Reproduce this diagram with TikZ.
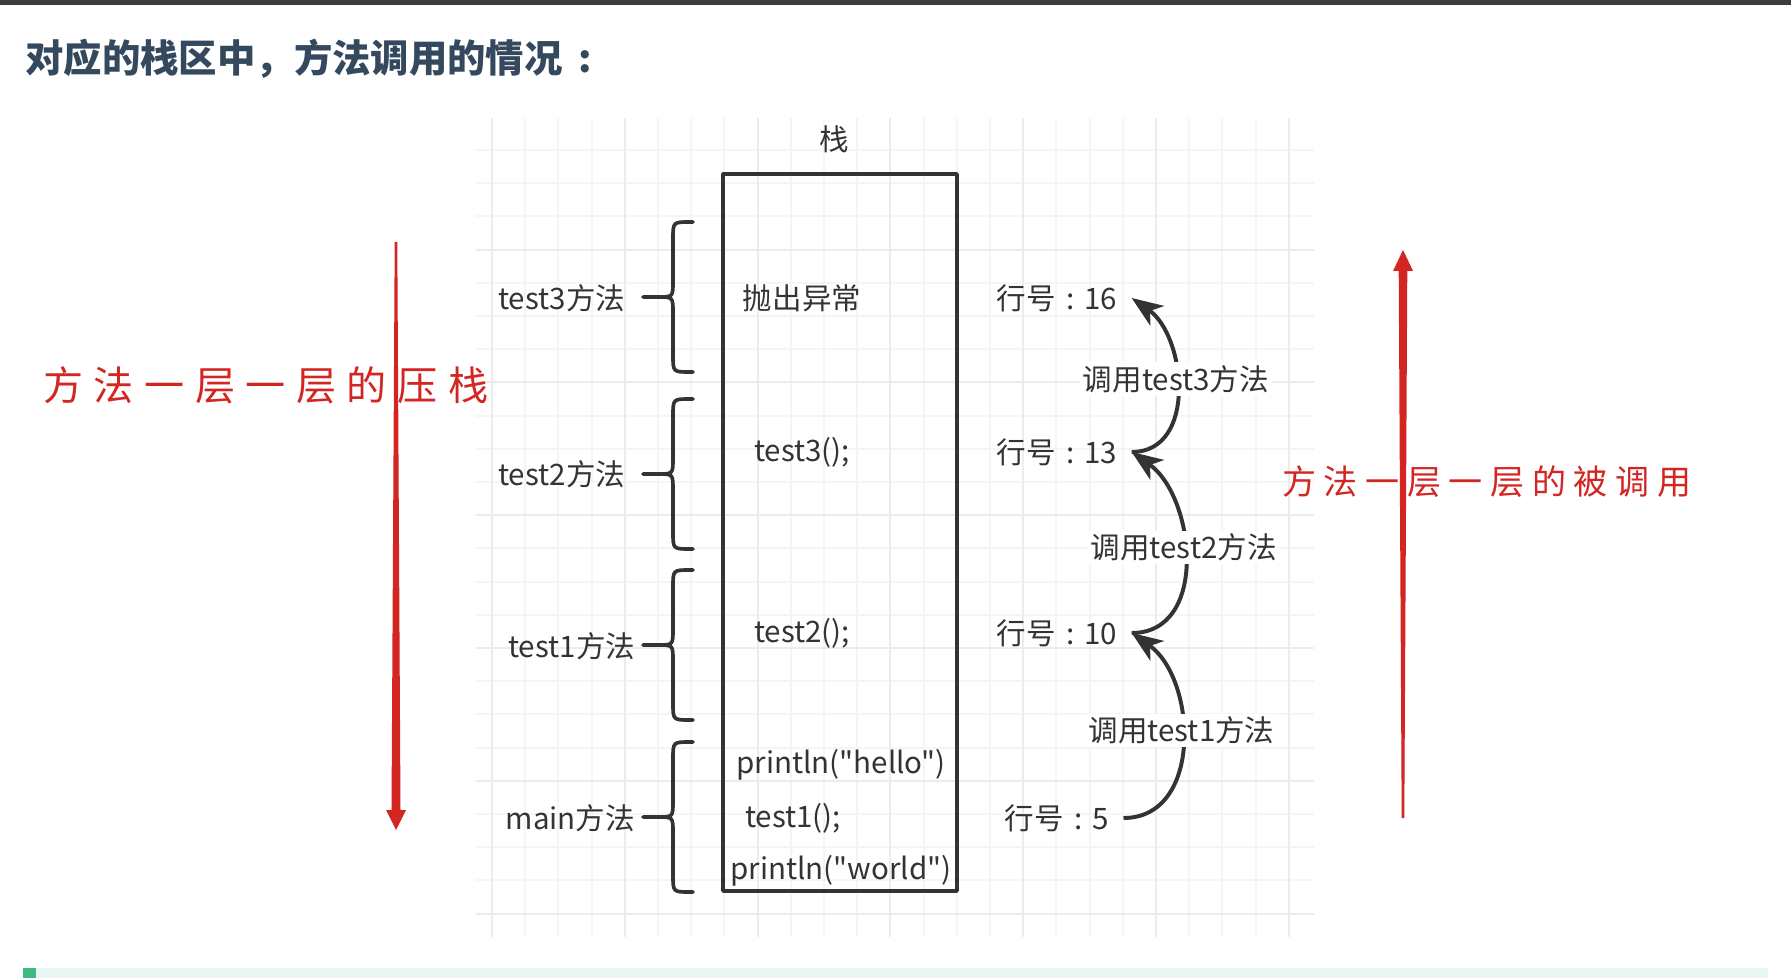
\documentclass[tikz,border=0pt]{standalone}
\usepackage{fontspec}
\setmainfont{Noto Sans CJK SC}
\newfontfamily\plainfont{Noto Sans CJK SC}
\newfontfamily\pushfont[LetterSpace=26.3]{Noto Sans CJK SC}
\newfontfamily\callfont[LetterSpace=22.4]{Noto Sans CJK SC}
\usetikzlibrary{arrows.meta,calc}

\definecolor{ink}{HTML}{333333}
\definecolor{titleblue}{HTML}{34495E}
\definecolor{penred}{RGB}{211,38,34}
\definecolor{vuegreen}{HTML}{42B983}
\definecolor{tipbg}{HTML}{E9F6F1}

\newcommand{\hao}[1]{行号\hspace{0.35em}:\hspace{0.35em}#1}

\tikzset{
  lbl/.style={font=\plainfont\fontsize{21}{24}\selectfont, text=ink},
  boxline/.style={draw=ink, line width=2.6pt, line join=round},
  callarrow/.style={draw=ink, line width=2.8pt, -{Stealth[length=22pt,width=17pt,inset=6pt]}},
  calllbl/.style={lbl, fill=white, inner sep=2pt},
  gridline/.style={draw=gray!8, line width=1.3pt},
  gridmajor/.style={draw=gray!15, line width=1.3pt},
  methodbrace/.pic={
    \draw[boxline, line cap=round] (0,-75) -- (-3,-75) .. controls (-20,-75) .. (-20,-58)
      -- (-20,-16) .. controls (-20,0) .. (-35,0) -- (-50,0)
      (-35,0) .. controls (-20,0) .. (-20,16) -- (-20,58) .. controls (-20,75) .. (-3,75) -- (0,75);
  }
}

\begin{document}
\begin{tikzpicture}[x=0.025cm, y=-0.025cm]
  \useasboundingbox (0,0) rectangle (1791,978);

  % Page bars
  \fill[ink!95] (0,0) rectangle (1791,5);
  \fill[tipbg] (23,968) rectangle (1768,978);
  \fill[vuegreen] (23,968) rectangle (36,978);

  % Title
  \node[font=\fontsize{27.3}{30}\selectfont\bfseries, text=titleblue, anchor=west, inner sep=0pt]
    (title) at (25,59) {对应的栈区中，方法调用的情况\hspace{0.4em}:};

  % Grid
  \foreach \k in {0,...,24} \draw[gridline] ({492+33.2*\k},118) -- ({492+33.2*\k},937);
  \foreach \k in {0,...,23} \draw[gridline] (476,{150+33.2*\k}) -- (1314,{150+33.2*\k});
  \foreach \k in {0,4,...,24} \draw[gridmajor] ({492+33.2*\k},118) -- ({492+33.2*\k},937);
  \foreach \k in {3,7,...,23} \draw[gridmajor] (476,{150+33.2*\k}) -- (1314,{150+33.2*\k});

  % Stack
  \node[lbl] (stack) at (834,139) {栈};
  \draw[boxline] (723,174) rectangle (957,891);
  \node[lbl] (s3) at (802,298) {抛出异常};
  \node[lbl] (s2) at (802,452) {test3();};
  \node[lbl] (s1) at (802,633) {test2();};
  \node[lbl] (shello) at (841,765) {println("hello")};
  \node[lbl] (stest1) at (793,818) {test1();};
  \node[lbl] (sworld) at (841,871) {println("world")};

  % Braces and method names
  \pic at (693,297) {methodbrace};
  \pic at (693,474) {methodbrace};
  \pic at (693,645) {methodbrace};
  \pic at (693,817) {methodbrace};
  \node[lbl, anchor=east] (m3) at (630,298) {test3方法};
  \node[lbl, anchor=east] (m2) at (630,474) {test2方法};
  \node[lbl, anchor=east] (m1) at (640,646) {test1方法};
  \node[lbl, anchor=east] (mmain) at (640,818) {main方法};

  % Line numbers
  \node[lbl, inner xsep=10pt] (l16) at (1057,298) {\hao{16}};
  \node[lbl, inner xsep=10pt] (l13) at (1057,452) {\hao{13}};
  \node[lbl, inner xsep=10pt] (l10) at (1057,633) {\hao{10}};
  \node[lbl, inner xsep=10pt] (l5) at (1057,818) {\hao{5}};

  % Calls
  \draw[callarrow] (l5.east) to[out=0, in=-35, looseness=1.1]
    node[calllbl, pos=0.55] {调用test1方法} (l10.east);
  \draw[callarrow] (l10.east) to[out=0, in=-35, looseness=1.1]
    node[calllbl, pos=0.55] {调用test2方法} (l13.east);
  \draw[callarrow] (l13.east) to[out=0, in=-35, looseness=1.1]
    node[calllbl, pos=0.55] {调用test3方法} (l16.east);

  % Red notes
  \coordinate (pushtail) at (396,242);
  \coordinate (pushtip) at (396,830);
  \fill[penred] ($(pushtail)+(-1.3,0)$) -- ($(pushtail)+(1.3,0)$) -- ($(pushtip)+(4.5,-20)$)
    -- ($(pushtip)+(10,-20)$) -- (pushtip) -- ($(pushtip)+(-10,-20)$) -- ($(pushtip)+(-4.5,-20)$) -- cycle;
  \node[font=\pushfont\fontsize{28.5}{32}\selectfont, text=penred, anchor=west, inner sep=0pt]
    (pushnote) at (43,385) {方法一层一层的压栈};

  \coordinate (calltail) at (1403,818);
  \coordinate (calltip) at (1403,250);
  \fill[penred] ($(calltail)+(-1.3,0)$) -- ($(calltail)+(1.3,0)$) -- ($(calltip)+(4.3,21)$)
    -- ($(calltip)+(10,21)$) -- (calltip) -- ($(calltip)+(-10,21)$) -- ($(calltip)+(-4.3,21)$) -- cycle;
  \node[font=\callfont\fontsize{24.2}{28}\selectfont, text=penred, anchor=west, inner sep=0pt]
    (callnote) at (1282,482) {方法一层一层的被调用};
\end{tikzpicture}
\end{document}
